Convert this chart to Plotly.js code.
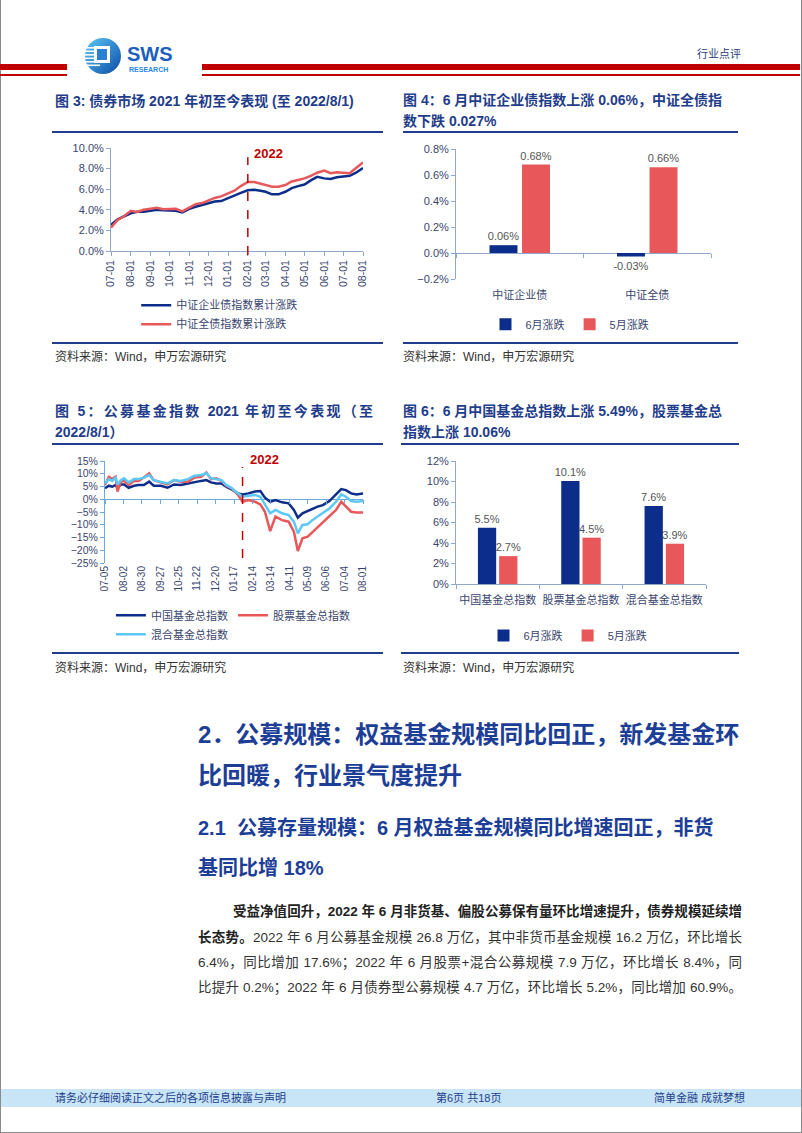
<!DOCTYPE html>
<html lang="zh-CN">
<head>
<meta charset="utf-8">
<title>申万宏源 行业点评 第6页</title>
<script src="https://cdn.plot.ly/plotly-3.0.1.min.js"></script>
<style>
html,body{margin:0;padding:0;background:#fff;}
#page{position:relative;width:802px;height:1133px;overflow:hidden;background:#fff;font-family:"Liberation Sans","Noto Sans CJK SC",sans-serif;}
.a{position:absolute;}
.red{position:absolute;background:#C00000;}
.ft{position:absolute;font-size:14px;font-weight:bold;color:#1F3D8A;line-height:21px;white-space:nowrap;}
.rule{position:absolute;height:2px;background:#1F3D8A;}
.src{position:absolute;font-size:12px;color:#333;line-height:16px;white-space:nowrap;}
.chart{position:absolute;}
.h1{position:absolute;left:198px;font-size:24px;font-weight:bold;color:#1C3E96;line-height:41px;white-space:nowrap;}
.h2{position:absolute;left:198px;font-size:20px;font-weight:bold;color:#1C3E96;line-height:40px;white-space:nowrap;}
.p{position:absolute;left:198px;width:544px;font-size:13.5px;color:#333;line-height:25px;white-space:nowrap;text-align:justify;text-align-last:justify;}
.foot{position:absolute;top:1090px;font-size:11px;color:#1F3D8A;line-height:16px;white-space:nowrap;}
</style>
</head>
<body>
<div id="page">
  <!-- page border -->
  <div class="a" style="left:0;top:0;width:1px;height:1133px;background:#8a8a8a"></div>
  <div class="a" style="left:801px;top:0;width:1px;height:1133px;background:#8a8a8a"></div>
  <div class="a" style="left:0;top:1132px;width:802px;height:1px;background:#8a8a8a"></div>

  <!-- header -->
  <div class="red" style="left:0;top:64px;width:67px;height:6px"></div>
  <div class="red" style="left:0;top:74px;width:67px;height:1.5px"></div>
  <div class="red" style="left:202px;top:64px;width:598px;height:6px"></div>
  <div class="red" style="left:202px;top:74px;width:598px;height:1.5px"></div>
  <svg class="a" style="left:80px;top:34px" width="110" height="44" viewBox="0 0 110 44">
    <defs>
      <linearGradient id="lg" x1="0" y1="0" x2="1" y2="1">
        <stop offset="0" stop-color="#5BC8F5"/>
        <stop offset="1" stop-color="#0D4BA8"/>
      </linearGradient>
    </defs>
    <circle cx="23" cy="22" r="18" fill="url(#lg)"/>
    <g fill="#fff">
      <rect x="4" y="13" width="16" height="1.6"/>
      <rect x="4" y="16.5" width="16" height="1.6"/>
      <rect x="4" y="20" width="16" height="1.6"/>
      <rect x="4" y="23.5" width="16" height="1.6"/>
      <rect x="4" y="27" width="16" height="1.6"/>
      <rect x="4" y="30.5" width="16" height="1.6"/>
      <rect x="14" y="12" width="16" height="17"/>
    </g>
    <rect x="17" y="15" width="10" height="11" fill="#2A7FD4"/>
    <text x="47" y="27" font-family="Liberation Sans, sans-serif" font-weight="bold" font-size="20" fill="#1C5FBE">SWS</text>
    <text x="49" y="38" font-family="Liberation Sans, sans-serif" font-weight="bold" font-size="7" fill="#1E88E5">RESEARCH</text>
  </svg>
  <div class="a" style="left:697px;top:45px;font-size:11px;line-height:16px;color:#2B3F7A;font-family:'Noto Sans CJK SC',sans-serif">行业点评</div>

  <!-- figure 3 -->
  <div class="ft" style="left:55px;top:91px">图 3: 债券市场 2021 年初至今表现 (至 2022/8/1)</div>
  <div class="rule" style="left:52px;top:131px;width:331px"></div>
  <div id="c3" class="chart" style="left:52px;top:135px;width:333px;height:205px"></div>
  <div class="rule" style="left:52px;top:342px;width:331px"></div>
  <div class="src" style="left:55px;top:349px">资料来源：Wind，申万宏源研究</div>

  <!-- figure 4 -->
  <div class="ft" style="left:403px;top:90px">图 4：6 月中证企业债指数上涨 0.06%，中证全债指<br>数下跌 0.027%</div>
  <div class="rule" style="left:403px;top:131px;width:335px"></div>
  <div id="c4" class="chart" style="left:400px;top:135px;width:340px;height:205px"></div>
  <div class="rule" style="left:403px;top:342px;width:335px"></div>
  <div class="src" style="left:403px;top:349px">资料来源：Wind，申万宏源研究</div>

  <!-- figure 5 -->
  <div class="ft" style="left:55px;top:401px;width:318px;text-align:justify;text-align-last:justify">图 5：公募基金指数 2021 年初至今表现（至</div>
  <div class="ft" style="left:55px;top:422px">2022/8/1）</div>
  <div class="rule" style="left:52px;top:443px;width:331px"></div>
  <div id="c5" class="chart" style="left:52px;top:447px;width:333px;height:203px"></div>
  <div class="rule" style="left:52px;top:652px;width:331px"></div>
  <div class="src" style="left:55px;top:660px">资料来源：Wind，申万宏源研究</div>

  <!-- figure 6 -->
  <div class="ft" style="left:403px;top:401px">图 6：6 月中国基金总指数上涨 5.49%，股票基金总<br>指数上涨 10.06%</div>
  <div class="rule" style="left:401px;top:443px;width:338px"></div>
  <div id="c6" class="chart" style="left:400px;top:447px;width:340px;height:203px"></div>
  <div class="rule" style="left:401px;top:652px;width:338px"></div>
  <div class="src" style="left:403px;top:660px">资料来源：Wind，申万宏源研究</div>

  <!-- section text -->
  <div class="h1" style="top:714px">2．公募规模：权益基金规模同比回正，新发基金环</div>
  <div class="h1" style="top:755px">比回暖，行业景气度提升</div>
  <div class="h2" style="top:808px">2.1&nbsp;&nbsp;公募存量规模：6 月权益基金规模同比增速回正，非货</div>
  <div class="h2" style="top:848px">基同比增 18%</div>
  <div class="p" style="top:899px;left:233px;width:509px;font-weight:bold;color:#222">受益净值回升，2022 年 6 月非货基、偏股公募保有量环比增速提升，债券规模延续增</div>
  <div class="p" style="top:925px"><b style="color:#222">长态势。</b>2022 年 6 月公募基金规模 26.8 万亿，其中非货币基金规模 16.2 万亿，环比增长</div>
  <div class="p" style="top:950px">6.4%，同比增加 17.6%；2022 年 6 月股票+混合公募规模 7.9 万亿，环比增长 8.4%，同</div>
  <div class="p" style="top:975px">比提升 0.2%；2022 年 6 月债券型公募规模 4.7 万亿，环比增长 5.2%，同比增加 60.9%。</div>

  <!-- footer -->
  <div class="a" style="left:1px;top:1089px;width:800px;height:18px;background:#C8E4F7"></div>
  <div class="foot" style="left:55px">请务必仔细阅读正文之后的各项信息披露与声明</div>
  <div class="foot" style="left:436px">第6页 共18页</div>
  <div class="foot" style="left:654px">简单金融 成就梦想</div>
</div>

<script>
// ---------------- data ----------------
// Figure 3: bond index cumulative change (%)
const dates3 = ['2021-07-01','2021-07-11','2021-07-21','2021-08-01','2021-08-11','2021-08-21','2021-09-01','2021-09-11','2021-09-21','2021-10-01','2021-10-11','2021-10-21','2021-11-01','2021-11-11','2021-11-21','2021-12-01','2021-12-11','2021-12-21','2022-01-01','2022-01-11','2022-01-21','2022-02-01','2022-02-11','2022-02-21','2022-03-01','2022-03-11','2022-03-21','2022-04-01','2022-04-11','2022-04-21','2022-05-01','2022-05-11','2022-05-21','2022-06-01','2022-06-11','2022-06-21','2022-07-01','2022-07-11','2022-07-21','2022-08-01'];
const corpBond3 = [2.55,3.05,3.35,3.65,3.8,3.8,3.9,4.0,3.95,3.9,3.9,3.75,4.1,4.3,4.45,4.6,4.8,4.85,5.15,5.4,5.65,5.9,5.95,5.85,5.75,5.5,5.5,5.75,6.1,6.3,6.45,6.85,7.2,7.05,7.0,7.15,7.25,7.3,7.6,8.05];
const allBond3 = [2.25,3.0,3.35,3.9,3.8,4.0,4.1,4.2,4.05,4.1,4.1,3.85,4.2,4.55,4.65,4.9,5.15,5.3,5.55,5.85,6.3,6.7,6.7,6.5,6.4,6.25,6.25,6.4,6.75,6.9,7.05,7.3,7.6,7.8,7.55,7.65,7.6,7.55,8.05,8.6];
const names3 = ['中证企业债指数累计涨跌','中证全债指数累计涨跌'];
const marker3 = '2022-02-01';

// Figure 4: June / May change (%)
const cats4 = ['中证企业债','中证全债'];
const jun4 = [0.06, -0.027];
const may4 = [0.68, 0.66];

// Figure 5: fund indices (%)
const dates5 = ['2021-07-05','2021-07-11','2021-07-16','2021-07-21','2021-07-24','2021-07-29','2021-08-03','2021-08-10','2021-08-18','2021-08-25','2021-09-02','2021-09-10','2021-09-17','2021-09-28','2021-10-08','2021-10-18','2021-10-28','2021-11-08','2021-11-18','2021-11-28','2021-12-06','2021-12-13','2021-12-21','2021-12-29','2022-01-05','2022-01-13','2022-01-23','2022-01-30','2022-02-08','2022-02-18','2022-02-26','2022-03-05','2022-03-13','2022-03-21','2022-03-31','2022-04-10','2022-04-18','2022-04-24','2022-05-01','2022-05-09','2022-05-16','2022-05-24','2022-06-01','2022-06-11','2022-06-21','2022-06-29','2022-07-06','2022-07-14','2022-07-22','2022-08-01'];
const chinaFund5 = [4.3,5.3,4.9,5.6,4.3,5.8,5.8,4.5,5.3,5.6,5.6,6.9,5.3,5.3,4.5,5.8,5.6,6.2,6.9,7.2,7.5,6.6,6.2,6.2,4.9,3.9,2.3,1.9,2.3,3.0,3.2,0.6,-1.0,-0.3,-1.2,-1.6,-4.2,-7.2,-5.5,-4.6,-3.6,-2.9,-2.3,-0.7,1.9,4.0,3.6,2.3,1.9,2.3];
const stockFund5 = [5.6,8.8,7.9,8.8,3.0,6.9,7.2,5.6,7.2,7.2,8.5,10.2,7.5,6.6,5.8,7.5,6.9,6.9,8.5,8.8,10.5,7.9,8.2,7.2,5.3,4.3,1.7,-1.0,-0.3,-1.0,-2.0,-4.9,-12.5,-6.8,-8.2,-8.8,-12.7,-20.3,-15.3,-14.7,-13.0,-11.1,-9.4,-6.8,-4.2,-1.0,-2.9,-4.9,-5.2,-5.2];
const mixedFund5 = [6.2,7.9,7.2,8.5,5.8,7.5,8.2,6.6,7.9,7.9,8.5,9.5,7.5,6.9,6.2,7.5,7.2,7.9,9.2,9.5,10.2,8.2,7.9,7.5,5.6,4.5,2.3,1.0,1.4,1.7,1.0,-2.3,-5.5,-4.2,-5.5,-6.2,-8.8,-13.4,-10.1,-9.8,-8.2,-6.8,-5.5,-3.6,-1.0,1.9,1.0,-0.7,-1.0,-0.7];
const names5 = ['中国基金总指数','股票基金总指数','混合基金总指数'];
const marker5 = '2022-01-30';

// Figure 6: June / May change (%)
const cats6 = ['中国基金总指数','股票基金总指数','混合基金总指数'];
const jun6 = [5.49, 10.06, 7.62];
const may6 = [2.72, 4.52, 3.93];

const seriesNames = ['6月涨跌','5月涨跌'];

// ---------------- styles ----------------
const FONT = 'Liberation Sans, Noto Sans CJK SC, sans-serif';
const TXT = '#3A466E';
const AX = '#8FA8D0';
const AX5 = '#6FA8DC';
const BLUE = '#0C2D8A';
const RED = '#E8585A';
const LBLUE = '#5CC8F5';
const MARK = '#C00000';
const cfg = {staticPlot: true, displayModeBar: false};

function baseLayout(w, h, m) {
  m.autoexpand = false;
  return {
    width: w, height: h, margin: m,
    paper_bgcolor: 'rgba(0,0,0,0)', plot_bgcolor: 'rgba(0,0,0,0)',
    font: {family: FONT, size: 11, color: TXT},
    showlegend: true
  };
}

// ---------- Figure 3 ----------
(function() {
  const L = baseLayout(333, 205, {l: 59, r: 22, t: 13, b: 89});
  L.legend = {x: 0.1, y: -0.385, xanchor: 'left', yanchor: 'top', orientation: 'v', font: {size: 11, color: TXT}, bgcolor: 'rgba(0,0,0,0)'};
  L.xaxis = {type: 'date', range: [dates3[0], dates3[dates3.length - 1]], tick0: dates3[0], dtick: 'M1', tickformat: '%m-%d',
    tickangle: -90, showline: true, linecolor: AX, ticks: 'outside', ticklen: 4, tickcolor: AX, showgrid: false, zeroline: false,
    tickfont: {size: 10.5, color: TXT}, automargin: false};
  L.yaxis = {range: [0, 10], dtick: 2, tickformat: '.1f', ticksuffix: '%', showline: true, linecolor: AX, ticks: 'outside', ticklen: 4,
    tickcolor: AX, showgrid: false, zeroline: false, tickfont: {size: 11, color: TXT}, automargin: false};
  L.shapes = [{type: 'line', xref: 'x', yref: 'paper', x0: marker3, x1: marker3, y0: -0.04, y1: 0.91, line: {color: MARK, width: 1.5, dash: 'dash'}}];
  L.annotations = [{text: '<b>2022</b>', xref: 'x', yref: 'paper', x: marker3, y: 0.95, xanchor: 'left', yanchor: 'middle', xshift: 4, showarrow: false, font: {size: 13, color: MARK}}];
  Plotly.newPlot('c3', [
    {type: 'scatter', mode: 'lines', x: dates3, y: corpBond3, name: names3[0], line: {color: BLUE, width: 2.5}},
    {type: 'scatter', mode: 'lines', x: dates3, y: allBond3, name: names3[1], line: {color: RED, width: 2.5}}
  ], L, cfg);
})();

// ---------- Figure 4 ----------
(function() {
  const L = baseLayout(340, 205, {l: 56, r: 29, t: 14, b: 61});
  L.barmode = 'group'; L.bargap = 0.49; L.bargroupgap = 0.14;
  L.legend = {x: 0.447, y: -0.237, xanchor: 'center', yanchor: 'top', orientation: 'h', font: {size: 11, color: TXT}, bgcolor: 'rgba(0,0,0,0)'};
  L.xaxis = {type: 'category', showline: false, ticks: '', showgrid: false, zeroline: false, tickangle: 0, ticklabelstandoff: 8,
    tickfont: {size: 11, color: TXT}, automargin: false};
  L.xaxis2 = {type: 'category', overlaying: 'x', anchor: 'free', position: 0.2, showline: false, ticks: 'outside', tickson: 'boundaries',
    ticklen: 4, tickcolor: AX, showticklabels: false, showgrid: false, zeroline: false, range: [-0.5, 1.5], automargin: false};
  L.yaxis = {range: [-0.2, 0.8], dtick: 0.2, tickformat: '.1f', ticksuffix: '%', showline: true, linecolor: AX, ticks: 'outside', ticklen: 4,
    tickcolor: AX, showgrid: false, zeroline: true, zerolinecolor: AX, zerolinewidth: 1, tickfont: {size: 11, color: TXT}, automargin: false};
  Plotly.newPlot('c4', [
    {type: 'bar', x: cats4, y: jun4, name: seriesNames[0], marker: {color: BLUE}, texttemplate: '%{y:.2f}%', textposition: 'outside',
      constraintext: 'none', textfont: {size: 11, color: '#555'}, cliponaxis: false},
    {type: 'bar', x: cats4, y: may4, name: seriesNames[1], marker: {color: RED}, texttemplate: '%{y:.2f}%', textposition: 'outside',
      constraintext: 'none', textfont: {size: 11, color: '#555'}, cliponaxis: false},
    {type: 'scatter', mode: 'none', x: cats4, y: jun4, xaxis: 'x2', showlegend: false, hoverinfo: 'skip'}
  ], L, cfg);
})();

// ---------- Figure 5 ----------
(function() {
  const L = baseLayout(333, 203, {l: 53, r: 22, t: 14, b: 87});
  const step = 28 * 86400000;
  L.legend = {x: 0.023, y: -0.37, xanchor: 'left', yanchor: 'top', orientation: 'h', font: {size: 11, color: TXT}, bgcolor: 'rgba(0,0,0,0)'};
  L.xaxis = {type: 'date', range: [dates5[0], dates5[dates5.length - 1]], tick0: dates5[0], dtick: step, tickformat: '%m-%d', tickangle: -90,
    showline: false, ticks: '', showgrid: false, zeroline: false, tickfont: {size: 10, color: TXT}, automargin: false};
  L.xaxis2 = {type: 'date', overlaying: 'x', anchor: 'free', position: 0.625, range: [dates5[0], dates5[dates5.length - 1]], tick0: dates5[0],
    dtick: step, showline: false, ticks: 'outside', ticklen: 4, tickcolor: AX5, showticklabels: false, showgrid: false, zeroline: false, automargin: false};
  L.yaxis = {range: [-25, 15], dtick: 5, ticksuffix: '%', showline: true, linecolor: AX5, ticks: 'outside', ticklen: 4, tickcolor: AX5,
    showgrid: false, zeroline: true, zerolinecolor: AX5, zerolinewidth: 1.5, tickfont: {size: 10.5, color: TXT}, automargin: false};
  L.shapes = [{type: 'line', xref: 'x', yref: 'paper', x0: marker5, x1: marker5, y0: 0.05, y1: 0.94, line: {color: MARK, width: 1.5, dash: 'dash'}}];
  L.annotations = [{text: '<b>2022</b>', xref: 'x', yref: 'paper', x: marker5, y: 1.01, xanchor: 'left', yanchor: 'middle', xshift: 5, showarrow: false, font: {size: 13, color: MARK}}];
  Plotly.newPlot('c5', [
    {type: 'scatter', mode: 'lines', x: dates5, y: chinaFund5, name: names5[0], line: {color: BLUE, width: 2.5}},
    {type: 'scatter', mode: 'lines', x: dates5, y: stockFund5, name: names5[1], line: {color: RED, width: 2.5}},
    {type: 'scatter', mode: 'lines', x: dates5, y: mixedFund5, name: names5[2], line: {color: LBLUE, width: 2.5}},
    {type: 'scatter', mode: 'none', x: dates5, y: chinaFund5, xaxis: 'x2', showlegend: false, hoverinfo: 'skip'}
  ], L, cfg);
})();

// ---------- Figure 6 ----------
(function() {
  const L = baseLayout(340, 203, {l: 56, r: 34, t: 14, b: 66});
  L.barmode = 'group'; L.bargap = 0.49; L.bargroupgap = 0.14;
  L.legend = {x: 0.448, y: -0.30, xanchor: 'center', yanchor: 'top', orientation: 'h', font: {size: 11, color: TXT}, bgcolor: 'rgba(0,0,0,0)'};
  L.xaxis = {type: 'category', showline: true, linecolor: AX, ticks: 'outside', tickson: 'boundaries', ticklen: 4, tickcolor: AX,
    showgrid: false, zeroline: false, tickangle: 0, ticklabelstandoff: 6, tickfont: {size: 11, color: TXT}, automargin: false};
  L.yaxis = {range: [0, 12], dtick: 2, ticksuffix: '%', showline: true, linecolor: AX, ticks: 'outside', ticklen: 4, tickcolor: AX,
    showgrid: false, zeroline: false, tickfont: {size: 11, color: TXT}, automargin: false};
  Plotly.newPlot('c6', [
    {type: 'bar', x: cats6, y: jun6, name: seriesNames[0], marker: {color: BLUE}, texttemplate: '%{y:.1f}%', textposition: 'outside',
      constraintext: 'none', textfont: {size: 11, color: '#555'}, cliponaxis: false},
    {type: 'bar', x: cats6, y: may6, name: seriesNames[1], marker: {color: RED}, texttemplate: '%{y:.1f}%', textposition: 'outside',
      constraintext: 'none', textfont: {size: 11, color: '#555'}, cliponaxis: false}
  ], L, cfg);
})();
</script>
</body>
</html>
